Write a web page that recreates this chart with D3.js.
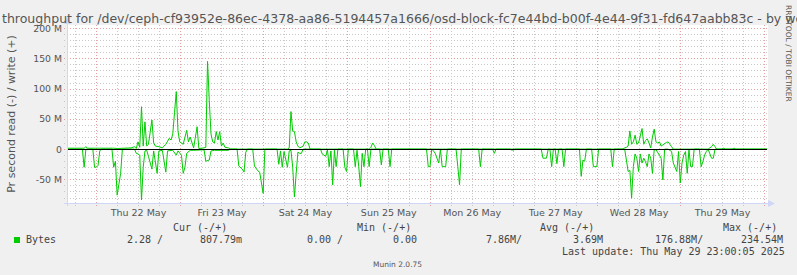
<!DOCTYPE html>
<html>
<head>
<meta charset="utf-8">
<script src="https://cdn.jsdelivr.net/npm/d3@7"></script>
<style>
  body { margin: 0; background: #f0f0f0; }
  svg { display: block; }
  text { font-family: "DejaVu Sans", sans-serif; fill: #555; }
  .mono { font-family: "DejaVu Sans Mono", monospace; font-size: 10px; fill: #444; }
</style>
</head>
<body>
<script>
// ---- data (values in M bytes/s, times in hours since Thu 22 May 00:00) ----
const titleText = "Disk throughput for /dev/ceph-cf93952e-86ec-4378-aa86-5194457a1666/osd-block-fc7e44bd-b00f-4e44-9f31-fd647aabb83c - by week";
const yLabel = "Pr second read (-) / write (+)";
const yTicks = [-50, 0, 50, 100, 150, 200];
const dayLabels = ["Thu 22 May", "Fri 23 May", "Sat 24 May", "Sun 25 May", "Mon 26 May", "Tue 27 May", "Wed 28 May", "Thu 29 May"];

const writeHours = [-8.5,-3.5,-3,-2.5,5,6,10,11,11.5,12,12.5,13,13.5,14,14.5,15,16,16.5,17,18,19,20,21,21.5,22,22.5,23,23.5,24,25,26,26.5,27,28,29,29.5,31,31.5,32,32.5,33,33.5,34,34.5,35,35.5,36,36.5,37,38,38.5,
  55,55.5,56,56.5,57,57.5,58,58.5,59.5,60,60.5,61,61.5,
  78.5,79,79.5,80,80.5,
  151.5,152,152.5,153,153.5,154,154.5,155,155.5,156,157,157.5,158,158.5,159,159.5,160,160.5,161,161.5,162,162.5,163,164,164.5,165,165.5,166,
  176,177,177.5,178,178.5,180,180.5,181,183,183.5,184,193];
const writeValues = [1.5,1.5,4,1.5,1.5,1,2,4,1,12,3,70,5,45,5,8,48,10,5,4,2,8,18,15,25,60,95,30,12,8,31,12,20,2,37,1,2,3,145,80,25,12,10,29,15,29,5,10,3,2,0,
  0,2,62,30,29,12,5,2,5,12,12,10,0,
  0,3,10,6,0,
  0,2,3,5,30,8,12,23,8,10,34,8,14,17,10,2,20,33,12,10,12,5,7,11,12,8,4,0,
  0,4,8,4,0,0,1.5,0,0,1.5,0,0];

const readHours = [-8.5,-4,-3.5,-3,-1,-0.5,0,0.5,1,1.5,
  4.5,5,5.5,6,6.5,7,7.5,
  11,11.5,12,12.5,13,13.5,14,14.5,15,16,16.5,17.5,18,19,20,20.5,22,23,23.5,24.5,25,25.5,26,27,28,31,31.5,32.5,33,34,38,38.5,
  40.5,41,42,42.5,43,43.5,
  45,45.5,46.5,47,48,48.5,
  52,52.5,53,53.5,54,55,55.5,56,56.5,57,57.5,58,58.5,59,59.5,
  64.5,65,66,66.5,67,67.5,68,68.5,69,69.5,71,71.5,72,72.5,
  74,74.5,75,75.5,76,76.5,77,77.5,78,78.5,79,
  81.5,82,82.5,84,84.5,85,
  95,95.5,96,96.5,97,97.5,98.5,99,99.5,100.5,101,
  103.5,104,104.5,105,
  110,110.5,111,114,114.5,115,119,119.5,120,120.5,
  128,128.5,129.5,130,130.5,131,131.5,132,132.5,133,134,134.5,135,
  139,139.5,140,140.5,141,142.5,143,144,144.5,
  148,148.5,149,
  152,152.5,153,153.5,154,154.5,155,155.5,156,156.5,157,157.5,158,158.5,159,159.5,160,160.5,161,162,162.5,163,163.5,164.5,165.5,166,167,167.5,168,168.5,169,169.5,170,170.5,171,171.5,172,173.5,174,174.5,175,175.5,176,177,177.5,178,193];
const readValues = [0,0,-30,0,0,-30,-30,-27,-3,0,
  0,-30,-20,-76,-58,-40,0,
  0,-7,-8,-10,-84,-30,-3,-2,-12,-33,-3,-40,-3,-2,-38,-3,-2,-10,-3,-10,-40,-30,-7,-2,-2,-1,-20,-18,-3,-2,-2,0,
  0,-28,-33,-38,-5,0,
  0,-28,-36,-38,-73,0,
  0,-25,-3,-30,-4,-30,-3,-2,-30,-79,-40,-5,-7,-7,0,
  0,-8,-12,-1,-29,-3,-59,-2,-29,0,0,-30,-37,0,
  0,-29,-2,-29,-62,-7,-29,0,0,-29,0,
  0,-26,0,0,-29,0,
  0,-29,-29,0,-3,-7,-23,0,-29,-29,0,
  0,-29,-59,0,
  0,-29,0,0,-7,0,0,-1.5,-1.5,0,
  0,-15,-15,0,0,-29,0,0,-24,0,0,-29,0,
  0,-45,-18,-20,0,0,-29,-29,0,
  0,-29,0,
  0,-18,-37,-35,-81,-29,-8,-15,-37,-8,-23,-15,-21,-29,-8,-15,-40,-1,-1,-10,-15,-51,0,0,-4,-23,-37,-4,-56,-23,-10,-4,-40,-1,-29,-29,0,0,-29,-21,-10,-4,0,-15,-15,0,0];

const legendHeads = ["Cur (-/+)", "Min (-/+)", "Avg (-/+)", "Max (-/+)"];
const legendValues = ["2.28 /", "807.79m", "0.00 /", "0.00", "7.86M/", "3.69M", "176.88M/", "234.54M"];
const lastUpdate = "Last update: Thu May 29 23:00:05 2025";

// ---- layout ----
const W = 797, H = 275;
const plot = { left: 67, right: 767, top: 25, bottom: 203 };
const base = new Date(2025, 4, 22, 0, 0);
const toDate = h => new Date(base.getTime() + h * 3600e3);

const x = d3.scaleTime()
  .domain([toDate(-8.43), toDate(192.95)])
  .range([plot.left, plot.right]);
const y = d3.scaleLinear()
  .domain([-89, 205])
  .range([plot.bottom, plot.top]);

const svg = d3.select("body").append("svg").attr("width", W).attr("height", H);
svg.append("rect").attr("width", W).attr("height", H).attr("fill", "#f0f0f0");
svg.append("rect")
  .attr("x", plot.left).attr("y", plot.top)
  .attr("width", plot.right - plot.left + 1).attr("height", plot.bottom - plot.top)
  .attr("fill", "#fff");

// grid
const grid = svg.append("g").attr("shape-rendering", "crispEdges");
const minorY = d3.range(-80, 201, 10).filter(v => v % 50 !== 0);
grid.selectAll(".hmin").data(minorY).join("line")
  .attr("x1", plot.left - 3).attr("x2", plot.right)
  .attr("y1", d => Math.round(y(d)) + 0.5).attr("y2", d => Math.round(y(d)) + 0.5)
  .attr("stroke", "#c8c8c8").attr("stroke-dasharray", "1,2");
const hours6 = d3.timeHour.every(6).range(x.domain()[0], x.domain()[1]).filter(d => d.getHours() !== 0);
grid.selectAll(".vmin").data(hours6).join("line")
  .attr("x1", d => Math.round(x(d)) + 0.5).attr("x2", d => Math.round(x(d)) + 0.5)
  .attr("y1", plot.top).attr("y2", plot.bottom + 3)
  .attr("stroke", "#c8c8c8").attr("stroke-dasharray", "1,2");
grid.selectAll(".hmaj").data(yTicks).join("line")
  .attr("x1", plot.left - 3).attr("x2", plot.right)
  .attr("y1", d => Math.round(y(d)) + 0.5).attr("y2", d => Math.round(y(d)) + 0.5)
  .attr("stroke", "#e6a0a0").attr("stroke-dasharray", "1,2");
const days = d3.timeDay.range(x.domain()[0], x.domain()[1]);
grid.selectAll(".vmaj").data(days).join("line")
  .attr("x1", d => Math.round(x(d)) + 0.5).attr("x2", d => Math.round(x(d)) + 0.5)
  .attr("y1", plot.top).attr("y2", plot.bottom + 3)
  .attr("stroke", "#e6a0a0").attr("stroke-dasharray", "1,2");

// axes lines + arrows
const axisCol = "#cfd6f8";
svg.append("line").attr("x1", plot.left + 0.5).attr("x2", plot.left + 0.5)
  .attr("y1", plot.top - 2).attr("y2", plot.bottom + 3).attr("stroke", axisCol);
svg.append("line").attr("x1", plot.left - 3).attr("x2", plot.right + 2)
  .attr("y1", plot.bottom + 0.5).attr("y2", plot.bottom + 0.5).attr("stroke", axisCol);
svg.append("path").attr("d", `M${plot.left - 3},${plot.top - 1} L${plot.left + 0.5},${plot.top - 8} L${plot.left + 4},${plot.top - 1} Z`).attr("fill", axisCol);
svg.append("path").attr("d", `M${plot.right + 1},${plot.bottom - 3} L${plot.right + 8},${plot.bottom + 0.5} L${plot.right + 1},${plot.bottom + 4} Z`).attr("fill", axisCol);

// y tick labels
const yAxis = d3.axisLeft(y).tickValues(yTicks).tickSize(0).tickPadding(5)
  .tickFormat(d => d === 0 ? "0" : d + " M");
const gy = svg.append("g").attr("transform", `translate(${plot.left},0)`).call(yAxis);
gy.select(".domain").remove();
gy.selectAll("text").attr("font-size", 9.3).attr("font-family", "DejaVu Sans").attr("fill", "#555");

// x day labels (centered at noon)
const noons = dayLabels.map((d, i) => toDate(12 + 24 * i));
const xAxis = d3.axisBottom(x).tickValues(noons).tickSize(0).tickPadding(6)
  .tickFormat((d, i) => dayLabels[i]);
const gx = svg.append("g").attr("transform", `translate(0,${plot.bottom})`).call(xAxis);
gx.select(".domain").remove();
gx.selectAll("text").attr("font-size", 9.5).attr("font-family", "DejaVu Sans").attr("fill", "#555");

// series
svg.append("clipPath").attr("id", "clip").append("rect")
  .attr("x", plot.left + 1).attr("y", plot.top).attr("width", plot.right - plot.left).attr("height", plot.bottom - plot.top);
const line = d3.line().x(d => x(toDate(d[0]))).y(d => y(d[1]));
const readPts = readHours.map((h, i) => [h, readValues[i]]);
const writePts = writeHours.map((h, i) => [h, writeValues[i]]);
const series = svg.append("g").attr("clip-path", "url(#clip)");
series.append("path").attr("d", line(readPts)).attr("fill", "none").attr("stroke", "#00cc00").attr("stroke-width", 1);
series.append("path").attr("d", line(writePts)).attr("fill", "none").attr("stroke", "#00cc00").attr("stroke-width", 1);
svg.append("line").attr("x1", plot.left + 1).attr("x2", plot.right)
  .attr("y1", Math.round(y(0)) + 0.5).attr("y2", Math.round(y(0)) + 0.5)
  .attr("stroke", "#000").attr("shape-rendering", "crispEdges");

// title (wider than the picture, clipped on both sides like the original)
// size it so "throughput ... - " spans x=2..767, as in the reference
const probe = svg.append("text").attr("font-size", 12);
const widthOf = s => { probe.text(s); return probe.node().getComputedTextLength(); };
const spanW = widthOf("Disk throughput for /dev/ceph-cf93952e-86ec-4378-aa86-5194457a1666/osd-block-fc7e44bd-b00f-4e44-9f31-fd647aabb83c - by") - widthOf("by") - widthOf("Disk throughput") + widthOf("throughput");
const prefixW = widthOf("Disk throughput") - widthOf("throughput");
probe.remove();
const titleSize = 12 * 765 / spanW;
svg.append("text").attr("x", 2 - prefixW * titleSize / 12).attr("y", 23)
  .attr("font-size", titleSize).attr("fill", "#444").text(titleText);

// y axis label
svg.append("text").attr("transform", "translate(15,114) rotate(-90)")
  .attr("text-anchor", "middle").attr("font-size", 11).attr("fill", "#555").text(yLabel);

// rrdtool credit
svg.append("text").attr("transform", "translate(785.5,5) rotate(90)")
  .attr("font-size", 7.5).attr("fill", "#c4c4c4").text("RRDTOOL / TOBI OETIKER");

// legend
const headX = [173, 357, 540, 723];
svg.selectAll(".lh").data(legendHeads).join("text").attr("class", "mono")
  .attr("x", (d, i) => headX[i]).attr("y", 231).text(d => d);
svg.append("rect").attr("x", 14).attr("y", 237).attr("width", 6).attr("height", 6).attr("fill", "#00cc00");
svg.append("text").attr("class", "mono").attr("x", 26).attr("y", 243).text("Bytes");
const valX = [127, 200, 307, 393, 486, 573, 655, 741];
svg.selectAll(".lv").data(legendValues).join("text").attr("class", "mono")
  .attr("x", (d, i) => valX[i]).attr("y", 243).text(d => d);
svg.append("text").attr("class", "mono").attr("x", 562).attr("y", 255).text(lastUpdate);
svg.append("text").attr("x", 373).attr("y", 267).attr("font-size", 7.5).attr("fill", "#c8c8c8").text("Munin 2.0.75");
</script>
</body>
</html>
